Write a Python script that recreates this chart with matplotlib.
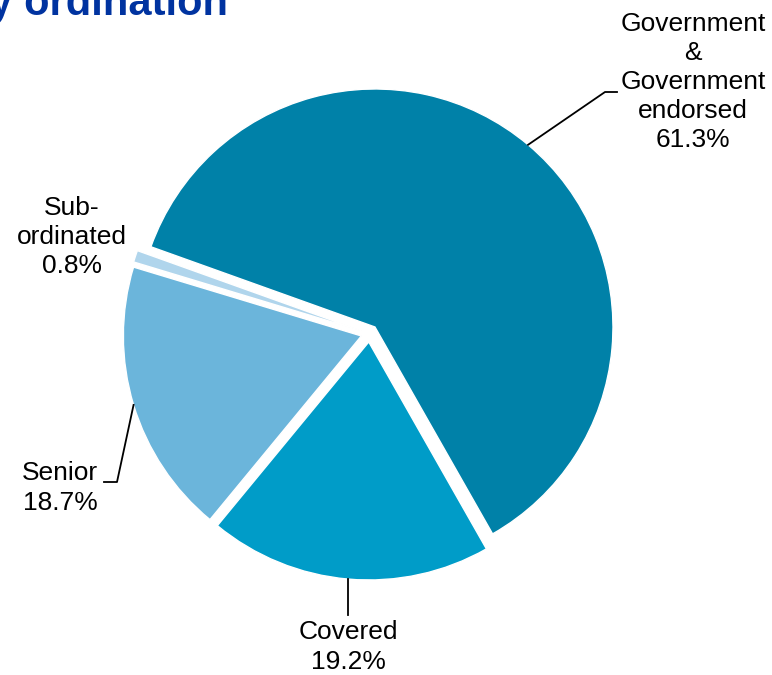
import numpy as np
import matplotlib
matplotlib.use("Agg")
import matplotlib.pyplot as plt

plt.rcParams["font.family"] = ["Liberation Sans", "DejaVu Sans"]

# slices, clockwise from the Government slice
labels = ["Government\n&\nGovernment\nendorsed", "Covered", "Senior", "Sub-\nordinated"]
shares = [61.3, 19.2, 18.7, 0.8]
colors = ["#0081a8", "#009cc8", "#6bb5db", "#b0d5ec"]

W, H = 772, 675
fig = plt.figure(figsize=(W / 100, H / 100), dpi=100)
ax = fig.add_axes([0, 0, 1, 1])

R = 238
C = (369.5, H - 333.5)
EXP = 8.5   # explode offset, in pixels (pie uses data units here)
wedges, _ = ax.pie(shares, colors=colors, startangle=160.3, counterclock=False,
                   radius=R, center=C, explode=[EXP] * len(shares),
                   wedgeprops=dict(linewidth=1, edgecolor="white"))
ax.set_xlim(0, W); ax.set_ylim(0, H); ax.set_aspect("equal"); ax.axis("off")


def edge_point(w):
    a = np.deg2rad((w.theta1 + w.theta2) / 2)
    cx, cy = w.center
    return cx + w.r * np.cos(a), cy + w.r * np.sin(a)


def leader(w, *pts):
    # pts in pixels from top-left; x=None keeps the line vertical
    x0, y0 = edge_point(w)
    xs = [x0] + [x0 if p[0] is None else p[0] for p in pts]
    ys = [y0] + [H - p[1] for p in pts]
    ax.plot(xs, ys, color="black", lw=1.3, clip_on=False)


leader(wedges[0], (605, 92), (617, 92))
leader(wedges[1], (None, 615))
leader(wedges[2], (117, 482), (104, 482))

txt = dict(fontsize=19, ha="center", va="center", linespacing=1.27, color="black")
pos = [(693, 82), (348, 647), (60, 488), (72, 237)]
for lab, s, (x, y) in zip(labels, shares, pos):
    ax.text(x, H - y, f"{lab}\n{s:.1f}%", **txt)

# title (cut off at the left edge of the slide)
ax.text(228, H - 15, "by ordination", fontsize=30, fontweight="bold", color="#0033a0",
        ha="right", va="baseline", clip_on=False)

fig.savefig("out.png", dpi=100)
